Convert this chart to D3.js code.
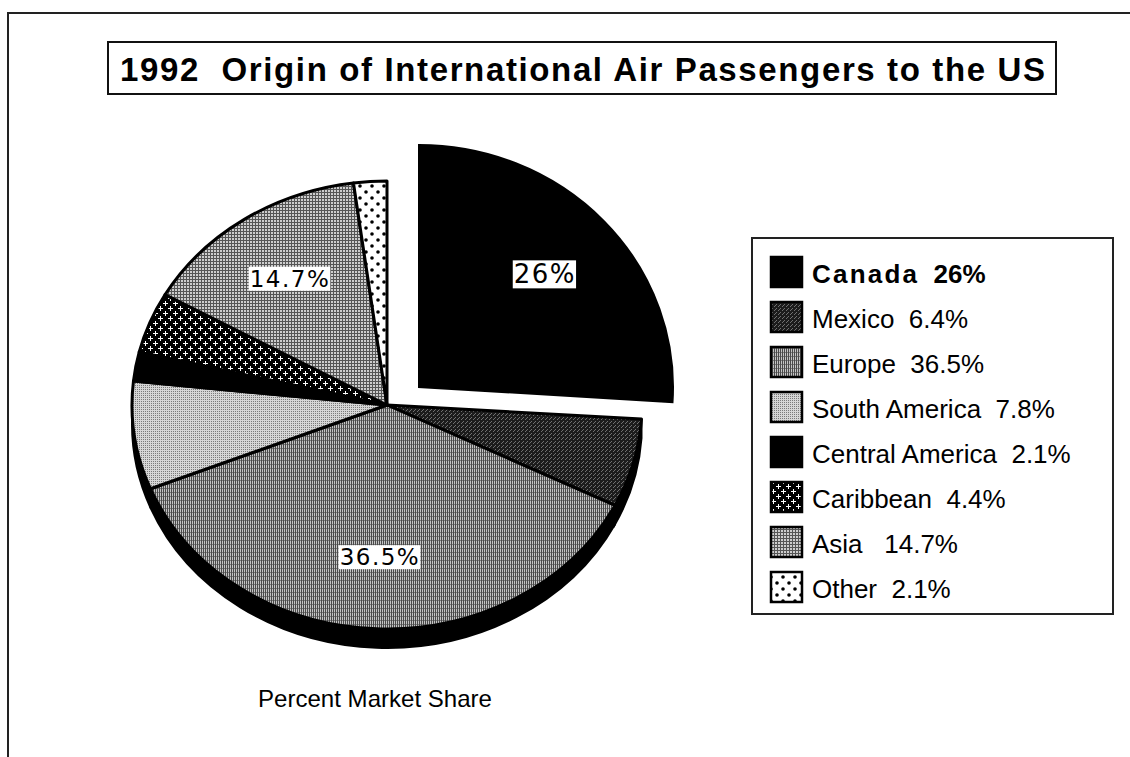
<!DOCTYPE html>
<html>
<head>
<meta charset="utf-8">
<script src="https://cdn.jsdelivr.net/npm/d3@7"></script>
<style>
  body { margin: 0; background: #fff; }
  svg { display: block; }
  text { font-family: "Liberation Sans", Arial, Helvetica, sans-serif; white-space: pre; }
</style>
</head>
<body>
<svg id="chart"></svg>
<script>
// data
const regions = ["Canada", "Mexico", "Europe", "South America", "Central America", "Caribbean", "Asia", "Other"];
const shares = [26, 6.4, 36.5, 7.8, 2.1, 4.4, 14.7, 2.1];
const shareLabels = ["26%", "6.4%", "36.5%", "7.8%", "2.1%", "4.4%", "14.7%", "2.1%"];
const legendGaps = ["  ", "  ", "  ", "  ", "  ", "  ", "   ", "  "];
const labelledRegions = ["Canada", "Europe", "Asia"];
const explodedRegion = "Canada";
const chartTitle = "1992  Origin of International Air Passengers to the US";
const footText = "Percent Market Share";

class PieChart {
    constructor(_config, _data) {
        this.config = {
            parentElement: _config.parentElement,
            containerWidth: _config.containerWidth || 1130,
            containerHeight: _config.containerHeight || 757
        }
        this.data = _data;
        this.initVis();
    }

    initVis() {
        let vis = this;

        vis.svg = d3.select(vis.config.parentElement)
            .attr('width', vis.config.containerWidth)
            .attr('height', vis.config.containerHeight);

        vis.defs = vis.svg.append('defs');
        vis.makePatterns();

        // outer frame (only top and left edge show)
        vis.svg.append('path')
            .attr('d', 'M8,757V13H1130')
            .attr('fill', 'none')
            .attr('stroke', '#222')
            .attr('stroke-width', 2);

        // title box
        vis.svg.append('rect')
            .attr('x', 108).attr('y', 42)
            .attr('width', 948).attr('height', 52)
            .attr('fill', '#fff')
            .attr('stroke', '#111')
            .attr('stroke-width', 2);

        vis.svg.append('text')
            .attr('x', 120).attr('y', 81)
            .attr('textLength', 925)
            .attr('lengthAdjust', 'spacing')
            .style('font-size', '33px')
            .style('font-weight', 'bold')
            .text(chartTitle);

        vis.svg.append('text')
            .attr('x', 258).attr('y', 707)
            .attr('textLength', 234)
            .attr('lengthAdjust', 'spacingAndGlyphs')
            .style('font-size', '24px')
            .text(footText);

        // fill lookup
        vis.fill = d3.scaleOrdinal()
            .domain(regions)
            .range(['#000', 'url(#p-mexico)', 'url(#p-europe)', 'url(#p-southam)',
                    '#000', 'url(#p-carib)', 'url(#p-asia)', 'url(#p-other)']);

        vis.pie = d3.pie().sort(null).value(d => d.share);

        vis.renderPie();
        vis.renderLegend();
    }

    makePatterns() {
        let vis = this;
        const pat = (id, w, h, bg) => {
            const p = vis.defs.append('pattern')
                .attr('id', id)
                .attr('patternUnits', 'userSpaceOnUse')
                .attr('width', w).attr('height', h);
            p.append('rect').attr('width', w).attr('height', h).attr('fill', bg);
            return p;
        };
        const px = (p, list, c) => list.forEach(r => p.append('rect')
            .attr('x', r[0]).attr('y', r[1]).attr('width', r[2]).attr('height', r[3]).attr('fill', c));

        let m = pat('p-mexico', 4, 4, '#1c1c1c');
        px(m, [[0, 0, 1, 1], [2, 2, 1, 1], [3, 1, 1, 1]], '#707070');

        let e = pat('p-europe', 2, 4, '#c4c4c4');
        px(e, [[0, 0, 1, 4]], '#4a4a4a');
        px(e, [[1, 3, 1, 1]], '#7a7a7a');

        let s = pat('p-southam', 2, 2, '#d6d6d6');
        px(s, [[0, 0, 1, 1]], '#7a7a7a');

        let a = pat('p-asia', 3, 3, '#cdcdcd');
        px(a, [[0, 0, 3, 1], [0, 0, 1, 3]], '#555');

        let c = pat('p-carib', 10, 10, '#000');
        px(c, [[1, 3, 5, 1], [3, 1, 1, 5], [6, 8, 4, 1], [0, 8, 1, 1], [8, 6, 1, 4], [8, 0, 1, 1]], '#fff');

        let o = pat('p-other', 12, 12, '#fff');
        [[3, 3], [9, 9]].forEach(d => o.append('circle')
            .attr('cx', d[0]).attr('cy', d[1]).attr('r', 1.8).attr('fill', '#000'));
    }

    renderPie() {
        let vis = this;
        const arcs = vis.pie(vis.data);

        const pt = (a, rx, ry) => [rx * Math.sin(a), -ry * Math.cos(a)];
        const slicePath = (d, rx, ry) => {
            const [x0, y0] = pt(d.startAngle, rx, ry), [x1, y1] = pt(d.endAngle, rx, ry);
            const large = d.endAngle - d.startAngle > Math.PI ? 1 : 0;
            return `M0,0L${x0},${y0}A${rx},${ry} 0 ${large} 1 ${x1},${y1}Z`;
        };
        const wallPath = (d, rx, ry, depth) => {
            const a0 = Math.max(d.startAngle, Math.PI / 2), a1 = Math.min(d.endAngle, 3 * Math.PI / 2);
            if (a1 <= a0) return null;
            const [x0, y0] = pt(a0, rx, ry), [x1, y1] = pt(a1, rx, ry);
            return `M${x0},${y0}A${rx},${ry} 0 0 1 ${x1},${y1}L${x1},${y1 + depth}` +
                   `A${rx},${ry} 0 0 0 ${x0},${y0 + depth}Z`;
        };

        const main = {cx: 387, cy: 405, rx: 255, ry: 224, depth: 19};
        const boom = {cx: 419, cy: 387, rx: 254, ry: 242};

        const restArcs = arcs.filter(d => d.data.region !== explodedRegion);
        const boomArcs = arcs.filter(d => d.data.region === explodedRegion);

        vis.pieG = vis.svg.append('g')
            .attr('transform', `translate(${main.cx},${main.cy})`);

        // 3D side wall
        vis.pieG.selectAll('.wall')
            .data(restArcs.filter(d => wallPath(d, main.rx, main.ry, main.depth)))
            .join('path')
                .attr('class', 'wall')
                .attr('d', d => wallPath(d, main.rx, main.ry, main.depth))
                .attr('fill', '#000')
                .attr('stroke', '#000')
                .attr('stroke-width', 2);

        vis.pieG.selectAll('.slice')
            .data(restArcs)
            .join('path')
                .attr('class', 'slice')
                .attr('d', d => slicePath(d, main.rx, main.ry))
                .attr('fill', d => vis.fill(d.data.region))
                .attr('stroke', '#000')
                .attr('stroke-width', 3)
                .attr('stroke-linejoin', 'round');

        vis.boomG = vis.svg.append('g')
            .attr('transform', `translate(${boom.cx},${boom.cy})`);

        vis.boomG.selectAll('.slice')
            .data(boomArcs)
            .join('path')
                .attr('class', 'slice')
                .attr('d', d => slicePath(d, boom.rx, boom.ry))
                .attr('fill', d => vis.fill(d.data.region))
                .attr('stroke', '#000')
                .attr('stroke-width', 2);

        // percentage tags in white boxes
        const addLabel = (g, d, rx, ry, size) => {
            const mid = (d.startAngle + d.endAngle) / 2;
            const [x, y] = pt(mid, rx * 0.68, ry * 0.68);
            const lg = g.append('g');
            const t = lg.append('text')
                .attr('x', x).attr('y', y)
                .attr('text-anchor', 'middle')
                .attr('dominant-baseline', 'central')
                .style('font-family', '"DejaVu Sans", sans-serif')
                .style('font-size', size + 'px')
                .style('letter-spacing', '1.5px')
                .text(d.data.label);
            const bb = t.node().getBBox();
            lg.insert('rect', 'text')
                .attr('x', bb.x - 1).attr('y', bb.y + 1)
                .attr('width', bb.width + 1).attr('height', bb.height - 2)
                .attr('fill', '#fff');
        };
        restArcs.filter(d => labelledRegions.includes(d.data.region))
            .forEach(d => addLabel(vis.pieG, d, main.rx, main.ry, 23));
        boomArcs.filter(d => labelledRegions.includes(d.data.region))
            .forEach(d => addLabel(vis.boomG, d, boom.rx, boom.ry, 26));
    }

    renderLegend() {
        let vis = this;

        vis.svg.append('rect')
            .attr('x', 752).attr('y', 238)
            .attr('width', 361).attr('height', 376)
            .attr('fill', '#fff')
            .attr('stroke', '#222')
            .attr('stroke-width', 2);

        vis.rowY = d3.scalePoint()
            .domain(regions)
            .range([283, 598]);

        const rows = vis.svg.selectAll('.legend-row')
            .data(vis.data)
            .join('g')
                .attr('class', 'legend-row')
                .attr('transform', d => `translate(0,${vis.rowY(d.region)})`);

        rows.append('rect')
            .attr('x', 771).attr('y', -26)
            .attr('width', 31).attr('height', 30)
            .attr('fill', d => vis.fill(d.region))
            .attr('stroke', '#000')
            .attr('stroke-width', 2.5);

        const txt = rows.append('text')
            .attr('x', 812).attr('y', 0)
            .style('font-size', '26px')
            .style('font-weight', d => d.region === explodedRegion ? 'bold' : 'normal');
        txt.append('tspan')
            .style('letter-spacing', d => d.region === explodedRegion ? '2.2px' : null)
            .text(d => d.region);
        txt.append('tspan')
            .text(d => d.gap + d.label);
    }
}

const data = regions.map((r, i) => ({region: r, share: shares[i], label: shareLabels[i], gap: legendGaps[i]}));
new PieChart({parentElement: '#chart', containerWidth: 1130, containerHeight: 757}, data);
</script>
</body>
</html>
